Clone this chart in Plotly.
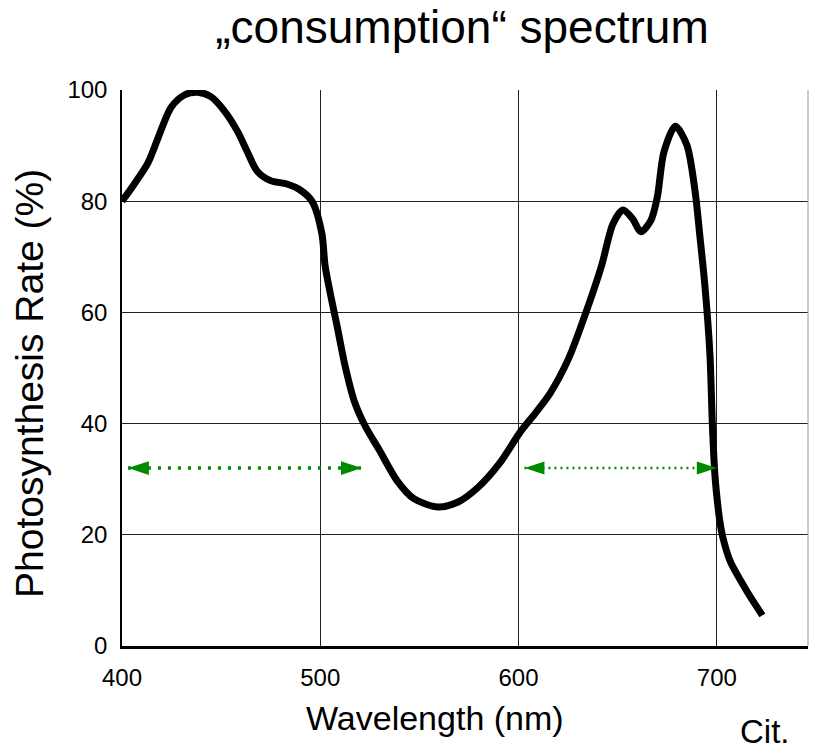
import plotly.graph_objects as go

# ---- data ----
wavelength = [400, 406.4, 413.1, 418.1, 424.8, 431.5, 438.2, 444.8, 451.5, 458.2,
              463.2, 468.2, 474.9, 483.2, 489.5, 495.8, 500.8, 502.4, 505, 508.5,
              512.5, 517.1, 522.3, 530, 538.6, 547.2, 559.2, 569.5, 579.8, 590.1,
              601.1, 608.5, 616, 625, 633, 641.8, 647.6, 652.6, 657.6, 661.7, 666.7,
              670, 673.3, 679.1, 684.9, 689, 691.5, 694, 696.5, 697.8, 699.0,
              700.0, 701.5, 703.0, 706.8, 715.1, 723.0]
rate = [80.0, 83.2, 86.9, 91.3, 96.9, 99.1, 99.6, 98.8, 96.3, 92.6,
        88.9, 85.4, 83.7, 83.1, 82.1, 80.0, 74.2, 68.5, 63.5, 57.5,
        50.4, 44.1, 39.8, 35.1, 29.8, 26.5, 25.0, 25.9, 28.6, 32.7,
        38.6, 41.9, 45.5, 51.5, 59.0, 68.3, 75.9, 78.4, 76.8, 74.5, 76.5,
        80.75, 88.8, 93.5, 90.1, 81.9, 73.6, 64.8, 52.7, 39.5, 31.0,
        27.0, 22.5, 19.6, 15.2, 9.9, 5.5]

arrow1_x = [403, 521]
arrow2_x = [603, 700]
arrow_y = 32

x_ticks = [400, 500, 600, 700]
y_ticks = [0, 20, 40, 60, 80, 100]

title_text = "„consumption“ spectrum"
x_title = "Wavelength (nm)"
y_title = "Photosynthesis Rate (%)"
note_text = "Cit."

FONT = "Liberation Sans, Arial, sans-serif"
GREEN = "#008a00"

W, H = 827, 750
L, T = 122, 90
PW, PH = 686, 556

fig = go.Figure()

fig.add_trace(go.Scatter(
    x=wavelength, y=rate, mode="lines",
    line=dict(color="black", width=7, shape="spline", smoothing=0.8),
    showlegend=False, hoverinfo="skip"))

fig.add_trace(go.Scatter(
    x=arrow1_x, y=[arrow_y, arrow_y], mode="lines+markers",
    line=dict(color=GREEN, width=3.5, dash="3px,7px"),
    marker=dict(symbol="arrow", size=22, color=GREEN, angle=[-90, 90], angleref="up"),
    showlegend=False, hoverinfo="skip"))

fig.add_trace(go.Scatter(
    x=arrow2_x, y=[arrow_y, arrow_y], mode="lines+markers",
    line=dict(color=GREEN, width=2.5, dash="2px,4px"),
    marker=dict(symbol="arrow", size=21, color=GREEN, angle=[-90, 90], angleref="up"),
    showlegend=False, hoverinfo="skip"))

fig.update_layout(
    width=W, height=H,
    margin=dict(l=L, r=W - L - PW, t=T, b=H - T - PH),
    paper_bgcolor="white", plot_bgcolor="white",
    font=dict(family=FONT, color="black"),
    title=dict(text=title_text, x=462 / W, xref="container", xanchor="center",
               y=1 - 27 / H, yref="container", yanchor="middle",
               font=dict(family=FONT, size=46, color="black")),
    xaxis=dict(range=[400, 746], tickvals=x_ticks, ticktext=[str(v) for v in x_ticks],
               showgrid=True, gridcolor="#222222", gridwidth=1.3,
               showline=True, linecolor="black", linewidth=2.5,
               zeroline=False, ticks="", ticklabelstandoff=8,
               tickfont=dict(family=FONT, size=24, color="black")),
    yaxis=dict(range=[0, 100], tickvals=y_ticks, ticktext=[str(v) for v in y_ticks],
               showgrid=True, gridcolor="#222222", gridwidth=1.3,
               showline=True, linecolor="black", linewidth=1.5,
               zeroline=False, ticks="", ticklabelstandoff=8,
               tickfont=dict(family=FONT, size=24, color="black")),
    shapes=[dict(type="line", xref="paper", yref="paper", x0=1, x1=1, y0=0, y1=1,
                 line=dict(color="#999999", width=1))],
    annotations=[
        dict(text=y_title, textangle=-90, xref="paper", yref="paper",
             x=(29 - 122) / PW, y=(646 - 384) / PH, xanchor="center", yanchor="middle",
             showarrow=False, font=dict(family=FONT, size=39, color="black")),
        dict(text=x_title, xref="paper", yref="paper",
             x=(434.5 - 122) / PW, y=(646 - 718) / PH, xanchor="center", yanchor="middle",
             showarrow=False, font=dict(family=FONT, size=34, color="black")),
        dict(text=note_text, xref="paper", yref="paper",
             x=(765 - 122) / PW, y=(646 - 731) / PH, xanchor="center", yanchor="middle",
             showarrow=False, font=dict(family=FONT, size=33, color="black")),
    ],
)

fig.write_html("out.html", config={"displayModeBar": False},
               post_script="document.body.style.margin='0';document.body.style.padding='0';")
